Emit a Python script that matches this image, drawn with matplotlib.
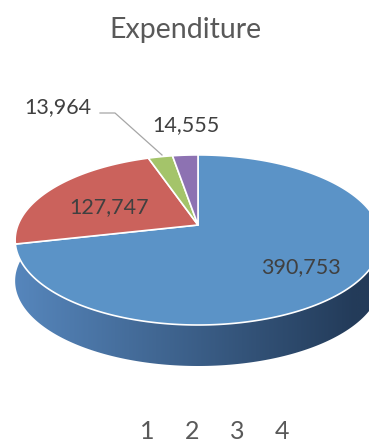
import numpy as np
import matplotlib
matplotlib.use("Agg")
import matplotlib.pyplot as plt
from matplotlib.patches import Polygon
from matplotlib.colors import to_rgb

# ---- data ----
title = "Expenditure"
categories = ["1", "2", "3", "4"]
values = [390753, 127747, 13964, 14555]

# ---- style ----
top_colors = ["#5B93C7", "#CB625C", "#A4C46A", "#8D72B2"]
side_left = "#5686BC"
side_right = "#233B59"
FONT = ["Lato", "DejaVu Sans"]

W, H = 369, 444
fig = plt.figure(figsize=(W / 100, H / 100), dpi=100)
ax = fig.add_axes([0, 0, 1, 1])
ax.set_xlim(0, W)
ax.set_ylim(H, 0)
ax.axis("off")

# perspective projection of unit-circle pie onto screen (pixels)
cx, cy, A, B, k, D = 198.0, 225.0, 180.0, 82.4, 0.176, 41.0


def proj(theta, r=1.0, dz=0.0):
    u = r * np.cos(theta)
    v = r * np.sin(theta)
    s = 1 + k * v
    return cx + A * u / s, cy - B * v / s + dz


# slice angles: start at 12 o'clock, clockwise
total = float(sum(values))
fracs = [v / total for v in values]
starts = []
a = np.pi / 2
for f in fracs:
    starts.append((a, a - 2 * np.pi * f))
    a -= 2 * np.pi * f

# ---- side (extrusion) with gradient ----
th = np.linspace(0.9 * np.pi, 2.1 * np.pi, 300)
tx, ty = proj(th)
bx, by = proj(th[::-1], dz=D)
side_xy = np.column_stack([np.concatenate([tx, bx]), np.concatenate([ty, by])])
side_poly = Polygon(side_xy, closed=True, facecolor="none", edgecolor="none")
ax.add_patch(side_poly)
c0 = np.array(to_rgb(side_left))
c1 = np.array(to_rgb(side_right))
t = np.clip(np.linspace(0, 1.1, 400), 0, 1)
grad = (c0[None, :] * (1 - t[:, None]) + c1[None, :] * t[:, None])[None, :, :]
im = ax.imshow(grad, extent=[15, 390, 380, 140], aspect="auto", zorder=1)
im.set_clip_path(side_poly)

# ---- top faces ----
for (a0, a1), col in zip(starts, top_colors):
    ths = np.linspace(a0, a1, max(int(abs(a1 - a0) / 0.01), 4))
    px, py = proj(ths)
    xy = np.column_stack([np.concatenate([[cx], px]), np.concatenate([[cy], py])])
    ax.add_patch(Polygon(xy, closed=True, facecolor=col, edgecolor="white",
                         linewidth=1.2, joinstyle="round", zorder=2))

# ---- labels ----
label_pos = [(301, 267), (109, 207), (58, 107), (186, 125)]
for v, (x, y) in zip(values, label_pos):
    ax.text(x, y, f"{v:,}", ha="center", va="center", fontsize=15.5,
            color="#404040", family=FONT, zorder=5)

# leader line for the third label
ax.plot([100, 115, 162], [113, 113, 155], color="#A6A6A6", lw=0.9, zorder=4)

# ---- title ----
ax.text(185, 30, title, ha="center", va="center", fontsize=20.5,
        color="#595959", family=FONT)

# ---- legend (category names) ----
leg_x = [147, 192, 237, 282]
for c, x in zip(categories, leg_x):
    ax.text(x, 431, c, ha="center", va="center", fontsize=18,
            color="#595959", family=FONT)

fig.savefig("out.png", dpi=100)
